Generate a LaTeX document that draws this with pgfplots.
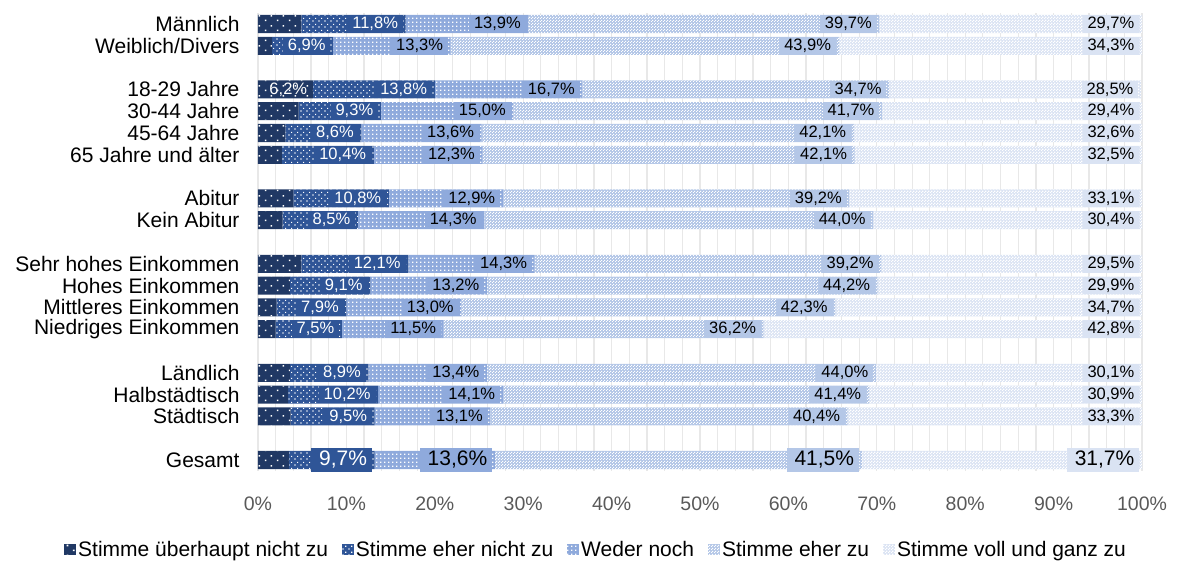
\documentclass[border=0pt]{standalone}
\usepackage{fontspec}
\setmainfont{Liberation Sans}
\usepackage{pgfplots}
\pgfplotsset{compat=1.18}
\usetikzlibrary{patterns}

\definecolor{c1}{HTML}{203864}
\definecolor{c2}{HTML}{2F5597}
\definecolor{c3}{HTML}{8FAADC}
\definecolor{c4}{HTML}{B4C7E7}
\definecolor{c5}{HTML}{DAE3F3}
\definecolor{gridc}{HTML}{E8E8E8}
\definecolor{tickc}{HTML}{595959}

\pgfdeclarepatternformonly{patA}{\pgfqpoint{0pt}{0pt}}{\pgfqpoint{12pt}{10pt}}{\pgfqpoint{12pt}{10pt}}{%
 \pgfpathrectangle{\pgfqpoint{1pt}{1pt}}{\pgfqpoint{1.6pt}{1.6pt}}%
 \pgfpathrectangle{\pgfqpoint{7pt}{6pt}}{\pgfqpoint{1.6pt}{1.6pt}}%
 \pgfusepath{fill}}
\pgfdeclarepatternformonly{patB}{\pgfqpoint{0pt}{0pt}}{\pgfqpoint{6pt}{6pt}}{\pgfqpoint{6pt}{6pt}}{%
 \pgfpathrectangle{\pgfqpoint{0.5pt}{0.5pt}}{\pgfqpoint{1.4pt}{1.4pt}}%
 \pgfpathrectangle{\pgfqpoint{3.5pt}{3.5pt}}{\pgfqpoint{1.4pt}{1.4pt}}%
 \pgfusepath{fill}}
\pgfdeclarepatternformonly{patC}{\pgfqpoint{0pt}{0pt}}{\pgfqpoint{3.5pt}{3.5pt}}{\pgfqpoint{3.5pt}{3.5pt}}{%
 \pgfpathrectangle{\pgfqpoint{0pt}{0pt}}{\pgfqpoint{1.5pt}{1.5pt}}%
 \pgfusepath{fill}}
\pgfdeclarepatternformonly{patD}{\pgfqpoint{0pt}{0pt}}{\pgfqpoint{3pt}{3pt}}{\pgfqpoint{3pt}{3pt}}{%
 \pgfpathrectangle{\pgfqpoint{0pt}{0pt}}{\pgfqpoint{1.3pt}{1.3pt}}%
 \pgfpathrectangle{\pgfqpoint{1.5pt}{1.5pt}}{\pgfqpoint{1.3pt}{1.3pt}}%
 \pgfusepath{fill}}
\pgfdeclarepatternformonly{patE}{\pgfqpoint{0pt}{0pt}}{\pgfqpoint{3pt}{3pt}}{\pgfqpoint{3pt}{3pt}}{%
 \pgfpathrectangle{\pgfqpoint{0pt}{0pt}}{\pgfqpoint{1.5pt}{1.5pt}}%
 \pgfpathrectangle{\pgfqpoint{1.5pt}{1.5pt}}{\pgfqpoint{1.5pt}{1.5pt}}%
 \pgfusepath{fill}}

\protected\def\G#1{{\fontsize{21}{24}\selectfont\rule[-4.5pt]{0pt}{16.5pt}\hspace{3pt}#1\hspace{3pt}}}

\pgfplotsset{
  lab/.style 2 args={nodes near coords, point meta=explicit symbolic,
    visualization depends on={rawx \as \segw},
    every node near coord/.append style={anchor=east, xshift={\segw*4.42pt-2.5pt}, fill=#1, text=#2,
      inner xsep=5pt, inner ysep=2pt, font=\fontsize{16.5}{18}\selectfont}},
  leg/.style={legend image code/.code={\path[##1,draw=none] (0pt,-5.5pt) rectangle (12pt,6pt);}},
}

\begin{document}
\begin{tikzpicture}
\path[use as bounding box] (-258pt,-91.1pt) rectangle (923pt,470.9pt);
\begin{axis}[
  at={(0pt,0pt)}, anchor=south west,
  scale only axis, width=884pt, height=457.8pt,
  xbar stacked, bar width=0.83,
  xmin=0, xmax=100, ymin=-20.5, ymax=0.5,
  axis line style={draw=none},
  tick style={draw=none},
  xtick={0,10,...,100},
  xticklabels={0\%,10\%,20\%,30\%,40\%,50\%,60\%,70\%,80\%,90\%,100\%},
  xticklabel style={text=tickc, font=\fontsize{19.5}{22}\selectfont, yshift=-22pt},
  minor x tick num=4,
  xmajorgrids, xminorgrids,
  major grid style={gridc, line width=1.2pt},
  minor grid style={gridc, line width=1.2pt},
  ytick={0,-1,-3,-4,-5,-6,-8,-9,-11,-12,-13,-14,-16,-17,-18,-20},
  yticklabels={Männlich,Weiblich/Divers,18-29 Jahre,30-44 Jahre,45-64 Jahre,65 Jahre und älter,Abitur,Kein Abitur,Sehr hohes Einkommen,Hohes Einkommen,Mittleres Einkommen,Niedriges Einkommen,Ländlich,Halbstädtisch,Städtisch,Gesamt},
  yticklabel style={font=\fontsize{21}{24}\selectfont, anchor=east, xshift=-15pt},
  legend columns=5,
  legend style={at={(0.3824,-0.1725)}, anchor=center, draw=none, fill=none,
    font=\fontsize{21}{24}\selectfont, inner sep=0pt,
    /tikz/every even column/.append style={column sep=12pt}},
]
\addplot[fill=c1, draw=none, postaction={pattern=patA, pattern color=white},
  nodes near coords, point meta=explicit symbolic,
  visualization depends on={rawx \as \segw},
  every node near coord/.append style={anchor=east, xshift={\segw*4.42pt-2.5pt}, text=white,
      inner xsep=3pt, inner ysep=2pt, font=\fontsize{16.5}{18}\selectfont}, leg]
 coordinates {(4.9,0) [] (1.6,-1) [] (6.2,-3) [6,2\%] (4.6,-4) [] (3.1,-5) [] (2.7,-6) []
  (4.0,-8) [] (2.8,-9) [] (4.9,-11) [] (3.6,-12) [] (2.1,-13) [] (2.0,-14) []
  (3.6,-16) [] (3.4,-17) [] (3.7,-18) [] (3.5,-20) []};
\addlegendentry{Stimme überhaupt nicht zu}
\addplot[fill=c2, draw=none, postaction={pattern=patB, pattern color=white}, lab={c2}{white}, leg]
 coordinates {(11.8,0) [11,8\%] (6.9,-1) [6,9\%] (13.8,-3) [13,8\%] (9.3,-4) [9,3\%] (8.6,-5) [8,6\%] (10.4,-6) [10,4\%]
  (10.8,-8) [10,8\%] (8.5,-9) [8,5\%] (12.1,-11) [12,1\%] (9.1,-12) [9,1\%] (7.9,-13) [7,9\%] (7.5,-14) [7,5\%]
  (8.9,-16) [8,9\%] (10.2,-17) [10,2\%] (9.5,-18) [9,5\%] (9.7,-20) [\G{9,7\%}]};
\addlegendentry{Stimme eher nicht zu}
\addplot[fill=c3, draw=none, postaction={pattern=patC, pattern color=white}, lab={c3}{black}, leg]
 coordinates {(13.9,0) [13,9\%] (13.3,-1) [13,3\%] (16.7,-3) [16,7\%] (15.0,-4) [15,0\%] (13.6,-5) [13,6\%] (12.3,-6) [12,3\%]
  (12.9,-8) [12,9\%] (14.3,-9) [14,3\%] (14.3,-11) [14,3\%] (13.2,-12) [13,2\%] (13.0,-13) [13,0\%] (11.5,-14) [11,5\%]
  (13.4,-16) [13,4\%] (14.1,-17) [14,1\%] (13.1,-18) [13,1\%] (13.6,-20) [\G{13,6\%}]};
\addlegendentry{Weder noch}
\addplot[fill=c4, draw=none, postaction={pattern=patD, pattern color=white}, lab={c4}{black}, leg]
 coordinates {(39.7,0) [39,7\%] (43.9,-1) [43,9\%] (34.7,-3) [34,7\%] (41.7,-4) [41,7\%] (42.1,-5) [42,1\%] (42.1,-6) [42,1\%]
  (39.2,-8) [39,2\%] (44.0,-9) [44,0\%] (39.2,-11) [39,2\%] (44.2,-12) [44,2\%] (42.3,-13) [42,3\%] (36.2,-14) [36,2\%]
  (44.0,-16) [44,0\%] (41.4,-17) [41,4\%] (40.4,-18) [40,4\%] (41.5,-20) [\G{41,5\%}]};
\addlegendentry{Stimme eher zu}
\addplot[fill=c5, draw=none, postaction={pattern=patE, pattern color=white}, lab={c5}{black}, leg]
 coordinates {(29.7,0) [29,7\%] (34.3,-1) [34,3\%] (28.5,-3) [28,5\%] (29.4,-4) [29,4\%] (32.6,-5) [32,6\%] (32.5,-6) [32,5\%]
  (33.1,-8) [33,1\%] (30.4,-9) [30,4\%] (29.5,-11) [29,5\%] (29.9,-12) [29,9\%] (34.7,-13) [34,7\%] (42.8,-14) [42,8\%]
  (30.1,-16) [30,1\%] (30.9,-17) [30,9\%] (33.3,-18) [33,3\%] (31.7,-20) [\G{31,7\%}]};
\addlegendentry{Stimme voll und ganz zu}
\end{axis}
\end{tikzpicture}
\end{document}
